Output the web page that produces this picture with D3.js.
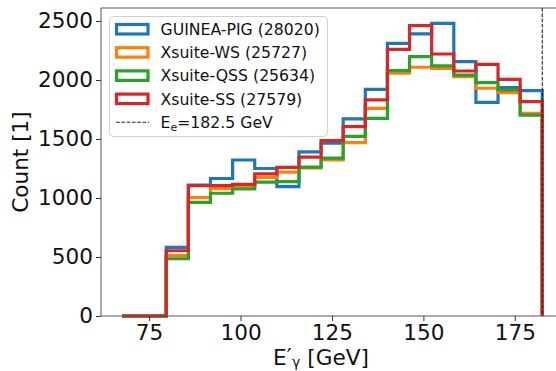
<!DOCTYPE html>
<html>
<head>
<meta charset="utf-8">
<script src="https://cdn.jsdelivr.net/npm/d3@7"></script>
<style>
  html, body { margin: 0; padding: 0; background: #fff; }
  svg { display: block; font-family: "DejaVu Sans", sans-serif; }
</style>
</head>
<body>
<svg id="chart_svg"></svg>
<script>
// Histogram bin edges in GeV (19 bins)
var binEdges = [67.6, 73.65, 79.69, 85.74, 91.79, 97.84, 103.88, 109.93, 115.98, 122.03,
    128.07, 134.12, 140.17, 146.21, 152.26, 158.31, 164.36, 170.40, 176.45, 182.5];

var seriesNames = ['GUINEA-PIG (28020)', 'Xsuite-WS (25727)', 'Xsuite-QSS (25634)', 'Xsuite-SS (27579)'];
var seriesColors = ['#1f77b4', '#ff7f0e', '#2ca02c', '#d62728'];

var guineaPig = [0, 0, 582, 1110, 1165, 1322, 1250, 1096, 1390, 1465, 1670, 1921, 2311, 2390, 2480, 2155, 1811, 1935, 1910];
var xsuiteWS  = [0, 0, 511, 1003, 1080, 1093, 1175, 1220, 1255, 1322, 1470, 1760, 2057, 2108, 2099, 2028, 1930, 1893, 1718];
var xsuiteQSS = [0, 0, 485, 963, 1040, 1076, 1135, 1138, 1262, 1338, 1522, 1675, 2079, 2198, 2119, 2042, 1977, 1915, 1703];
var xsuiteSS  = [0, 0, 553, 1104, 1104, 1116, 1205, 1260, 1347, 1486, 1605, 1831, 2260, 2460, 2220, 2076, 2133, 2006, 1816];

var beamEnergy = 182.5;
var xTicks = [75, 100, 125, 150, 175];
var yTicks = [0, 500, 1000, 1500, 2000, 2500];

var allSeries = [guineaPig, xsuiteWS, xsuiteQSS, xsuiteSS];

var frameW = 556,
    frameH = 371,
    plotL = 101,
    plotR = 563.3,
    plotT = 8,
    plotB = 316;

var frame = d3.select('svg#chart_svg')
    .attr('width', frameW)
    .attr('height', frameH);

var xScale = d3.scaleLinear()
    .domain([61.85, 188.25])
    .range([plotL, plotR]);

var yScale = d3.scaleLinear()
    .domain([0, 2610])
    .range([plotB, plotT]);

// step outline for a histogram
function stepPoints(counts) {
    var pts = [[binEdges[0], 0]];
    counts.forEach(function (c, i) {
        pts.push([binEdges[i], c]);
        pts.push([binEdges[i + 1], c]);
    });
    pts.push([binEdges[binEdges.length - 1], 0]);
    return pts;
}

var line = d3.line()
    .x(function (d) { return xScale(d[0]); })
    .y(function (d) { return yScale(d[1]); });

var plot = frame.append('g');

plot.selectAll('path.hist')
    .data(allSeries)
    .enter()
    .append('path')
    .attr('class', 'hist')
    .attr('d', function (d) { return line(stepPoints(d)); })
    .attr('fill', 'none')
    .attr('stroke', function (d, i) { return seriesColors[i]; })
    .attr('stroke-width', 3.2)
    .attr('stroke-linejoin', 'miter');

// beam energy line
plot.append('line')
    .attr('x1', xScale(beamEnergy))
    .attr('x2', xScale(beamEnergy))
    .attr('y1', plotT)
    .attr('y2', plotB)
    .attr('stroke', '#222')
    .attr('stroke-width', 1.1)
    .attr('stroke-dasharray', '3.7,1.6');

// spines
var spineColor = '#555';
frame.append('line').attr('x1', plotL).attr('x2', plotL).attr('y1', plotT).attr('y2', plotB)
    .attr('stroke', spineColor).attr('stroke-width', 1);
frame.append('line').attr('x1', plotL).attr('x2', plotR).attr('y1', plotB).attr('y2', plotB)
    .attr('stroke', spineColor).attr('stroke-width', 1);
frame.append('line').attr('x1', plotL).attr('x2', plotR).attr('y1', plotT).attr('y2', plotT)
    .attr('stroke', spineColor).attr('stroke-width', 1);
frame.append('line').attr('x1', plotR).attr('x2', plotR).attr('y1', plotT).attr('y2', plotB)
    .attr('stroke', spineColor).attr('stroke-width', 1);

// axes
var xAxis = d3.axisBottom(xScale).tickValues(xTicks).tickSize(5).tickPadding(4);
var yAxis = d3.axisLeft(yScale).tickValues(yTicks).tickFormat(d3.format('d')).tickSize(5).tickPadding(3);

var gx = frame.append('g').attr('transform', 'translate(0,' + plotB + ')').call(xAxis);
var gy = frame.append('g').attr('transform', 'translate(' + plotL + ',0)').call(yAxis);

[gx, gy].forEach(function (g) {
    g.select('.domain').remove();
    g.selectAll('.tick line').attr('stroke', '#333').attr('stroke-width', 1);
    g.selectAll('.tick text')
        .attr('fill', '#111')
        .style('font-size', '21.6px')
        .style('font-family', '"DejaVu Sans", sans-serif');
});

// axis labels
var xLab = frame.append('text')
    .attr('x', 273)
    .attr('y', 365)
    .attr('text-anchor', 'start')
    .attr('fill', '#111')
    .style('font-size', '21.6px');
xLab.append('tspan').text('E');
xLab.append('tspan').text('\u2032').attr('dy', -1);
xLab.append('tspan').text('\u03b3').style('font-size', '14px').attr('dy', 2.5).attr('dx', 0.5);
xLab.append('tspan').text(' [GeV]').attr('dy', -1.5);

frame.append('text')
    .attr('transform', 'translate(28,162) rotate(-90)')
    .attr('text-anchor', 'middle')
    .attr('fill', '#111')
    .style('font-size', '21.6px')
    .text('Count [1]');

// legend
var legend = frame.append('g');
legend.append('rect')
    .attr('x', 109.5)
    .attr('y', 16.5)
    .attr('width', 218)
    .attr('height', 120)
    .attr('rx', 4)
    .attr('fill', '#fff')
    .attr('fill-opacity', 0.8)
    .attr('stroke', '#d0d0d0')
    .attr('stroke-width', 1);

var rowY = function (i) { return 35 + i * 23.2; };

legend.selectAll('rect.handle')
    .data(seriesNames)
    .enter()
    .append('rect')
    .attr('class', 'handle')
    .attr('x', 116.5)
    .attr('y', function (d, i) { return rowY(i) - 10.5; })
    .attr('width', 31.5)
    .attr('height', 9.5)
    .attr('fill', 'none')
    .attr('stroke', function (d, i) { return seriesColors[i]; })
    .attr('stroke-width', 3.2);

legend.selectAll('text.lab')
    .data(seriesNames)
    .enter()
    .append('text')
    .attr('class', 'lab')
    .attr('x', 160.5)
    .attr('y', function (d, i) { return rowY(i); })
    .attr('fill', '#111')
    .style('font-size', '15.7px')
    .text(function (d) { return d; });

legend.append('line')
    .attr('x1', 116)
    .attr('x2', 149)
    .attr('y1', rowY(4) - 5.6)
    .attr('y2', rowY(4) - 5.6)
    .attr('stroke', '#222')
    .attr('stroke-width', 1.1)
    .attr('stroke-dasharray', '3.7,1.6');

var eLab = legend.append('text')
    .attr('x', 160.5)
    .attr('y', rowY(4))
    .attr('fill', '#111')
    .style('font-size', '15.7px');
eLab.append('tspan').text('E');
eLab.append('tspan').text('e').style('font-size', '11px').attr('dy', 3);
eLab.append('tspan').text('=' + beamEnergy + ' GeV').attr('dy', -3);
</script>
</body>
</html>
